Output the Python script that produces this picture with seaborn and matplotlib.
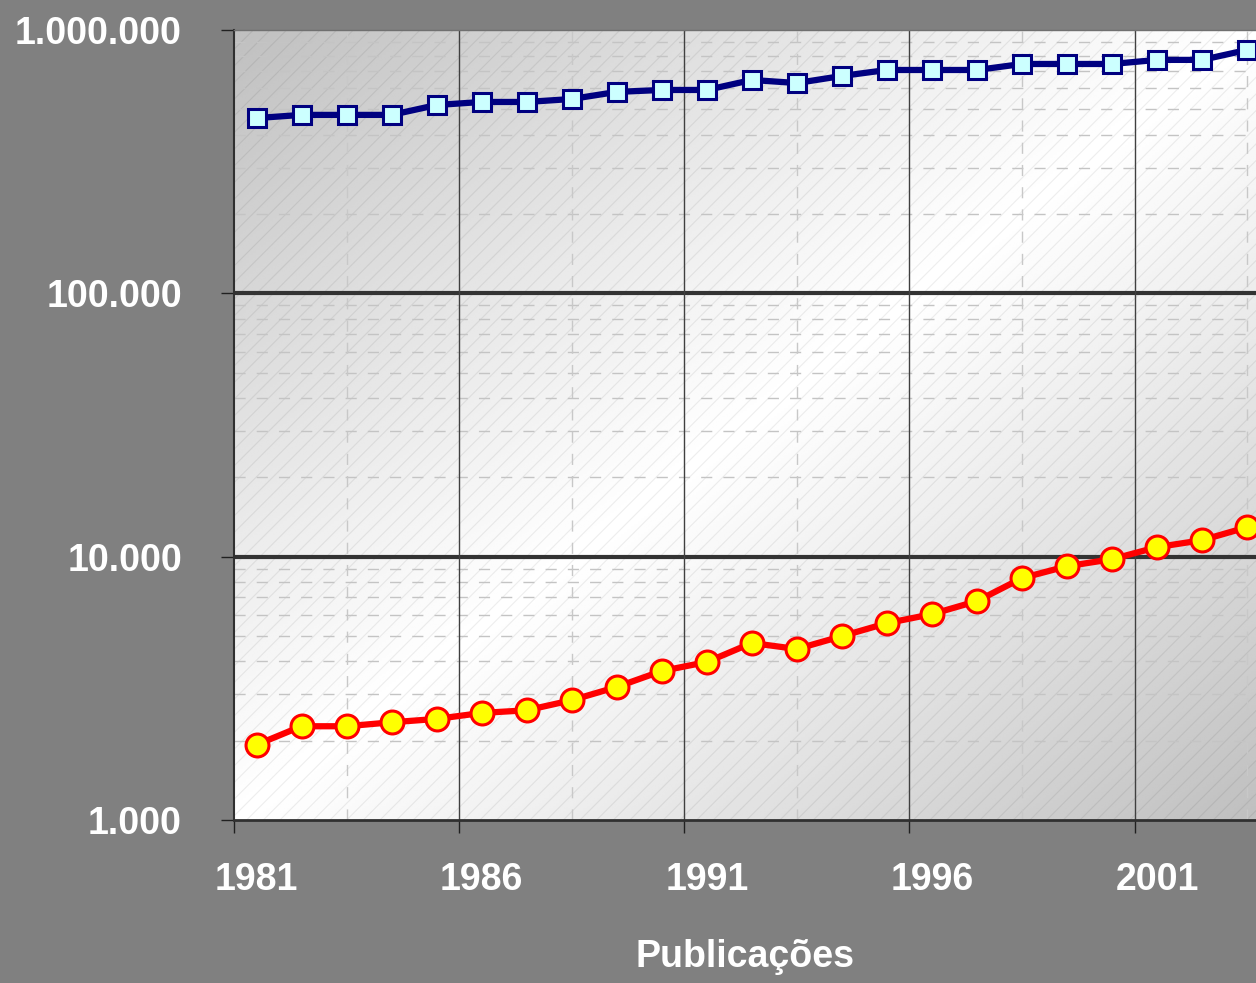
import matplotlib
matplotlib.use("Agg")
import matplotlib.pyplot as plt
from matplotlib.patches import Rectangle
import numpy as np
import pandas as pd
import seaborn as sns

# Data (log scale)
years = list(range(1981, 2004))
total = [463000, 476000, 476000, 476000, 519000, 533000, 533000, 547000, 582000,
         592000, 592000, 646000, 629000, 669000, 705000, 705000, 705000, 743000,
         743000, 743000, 770000, 770000, 840000]
brasil = [1930, 2270, 2270, 2350, 2420, 2550, 2610, 2850, 3200, 3680, 3980, 4700,
          4460, 4990, 5590, 6050, 6780, 8290, 9200, 9780, 10870, 11550, 12940]
x_labels = ["1981", "1986", "1991", "1996", "2001"]
y_ticks = [1000, 10000, 100000, 1000000]
y_labels = ["1.000", "10.000", "100.000", "1.000.000"]

df = pd.DataFrame({"ano": years, "total": total, "brasil": brasil})

plt.rcParams["font.family"] = ["Liberation Sans", "DejaVu Sans"]
plt.rcParams["hatch.linewidth"] = 0.8

fig = plt.figure(figsize=(12.56, 9.83), dpi=100, facecolor="#808080")
ax = fig.add_axes([234 / 1256, 1 - 820 / 983, 1022 / 1256, 790 / 983])

# gradient background + fine hatch
u, v = np.meshgrid(np.linspace(0, 1, 300), np.linspace(1, 0, 300))
shade = 1 - 0.25 * np.abs(u - v) ** 1.1
ax.imshow(shade, cmap="gray", vmin=0, vmax=1, extent=[0, 1, 0, 1],
          transform=ax.transAxes, aspect="auto", zorder=0, interpolation="bilinear")
ax.add_patch(Rectangle((0, 0), 1, 1, transform=ax.transAxes, facecolor="none",
                       edgecolor=(0, 0, 0, 0.07), hatch="//", lw=0, zorder=0.5))

ax.set_yscale("log")

# gridlines
for yy in [10000, 100000]:
    ax.axhline(yy, color="#333333", lw=3, zorder=1)
for dec in [1000, 10000, 100000]:
    for m in range(2, 10):
        ax.axhline(dec * m, color="#c4c4c4", lw=1, ls=(0, (8, 8)), zorder=0.8)
for yr in years[4::5]:
    ax.axvline(yr + 0.5, color="#404040", lw=1, zorder=1)
for yr in years[2::5]:
    ax.axvline(yr, color="#c8c8c8", lw=1, ls=(0, (8, 8)), zorder=0.8)

sns.lineplot(data=df, x="ano", y="total", ax=ax, color="#000080", lw=4.5,
             marker="s", markersize=12.5, markerfacecolor="#ccffff",
             markeredgecolor="#000080", markeredgewidth=2.2, zorder=3)
sns.lineplot(data=df, x="ano", y="brasil", ax=ax, color="#ff0000", lw=4.5,
             marker="o", markersize=16.5, markerfacecolor="#ffff00",
             markeredgecolor="#ff0000", markeredgewidth=2.2, zorder=3)

ax.set_xlim(years[0] - 20 / 45.14, years[0] + 1002 / 45.14)
ax.set_ylim(1000, 1000000)

fs = 27

# y axis
ax.set_yticks(y_ticks)
ax.set_yticklabels(y_labels)
ax.yaxis.set_minor_locator(matplotlib.ticker.NullLocator())
ax.tick_params(axis="y", length=9.5, width=1, color="#202020", pad=28,
               labelsize=fs, labelcolor="white")

# x axis: labels centred on the years, tick marks on category borders
ax.set_xticks(years[0::5])
ax.set_xticklabels(x_labels)
ax.set_xticks([years[0] - 0.5 + 5 * k for k in range(5)], minor=True)
ax.tick_params(axis="x", which="major", length=0, pad=30, labelsize=fs,
               labelcolor="white")
ax.tick_params(axis="x", which="minor", length=9.5, width=1, color="#202020")
for lab in ax.get_xticklabels() + ax.get_yticklabels():
    lab.set_fontweight("bold")

ax.set_xlabel("Publicações", fontsize=fs, fontweight="bold", color="white",
              labelpad=30)
ax.set_ylabel("")

ax.spines["right"].set_visible(False)
ax.spines["top"].set_color("#707070")
ax.spines["top"].set_linewidth(1)
ax.spines["left"].set_color("#303030")
ax.spines["left"].set_linewidth(1.5)
ax.spines["bottom"].set_color("#303030")
ax.spines["bottom"].set_linewidth(2)

fig.savefig("out.png", dpi=100, facecolor=fig.get_facecolor())
